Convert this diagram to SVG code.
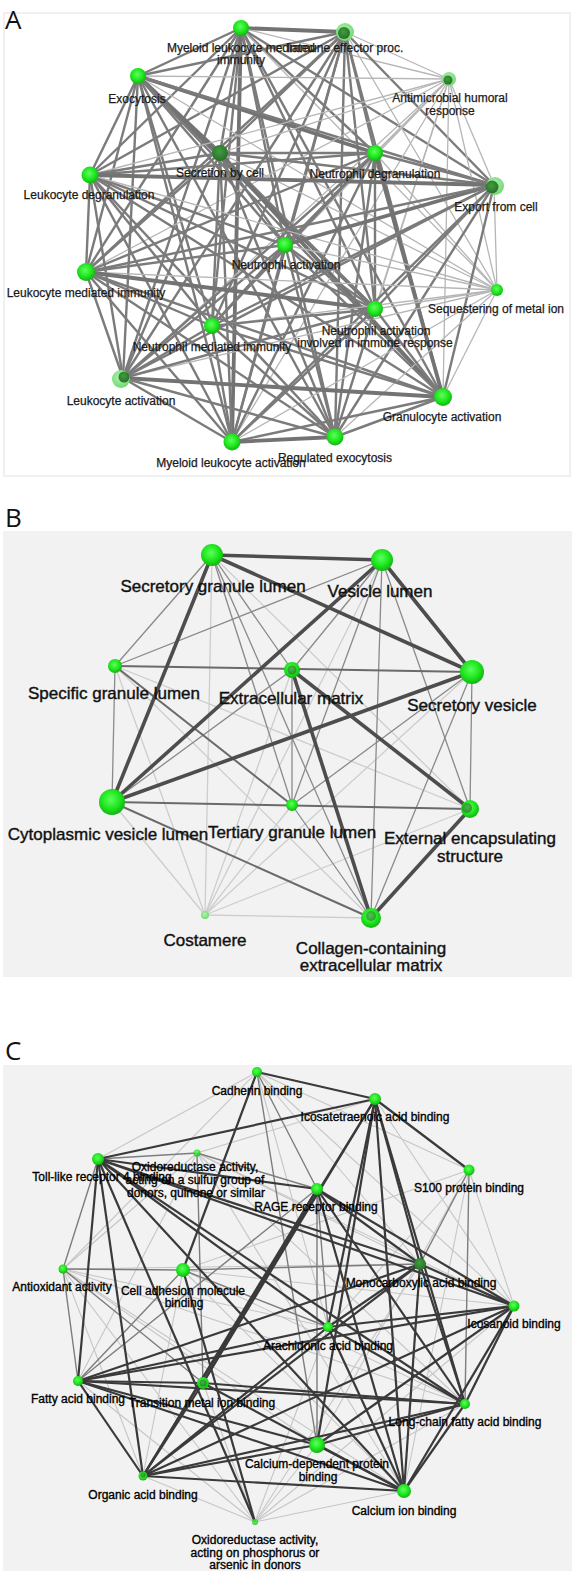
<svg xmlns="http://www.w3.org/2000/svg" width="576" height="1575" viewBox="0 0 576 1575">
<defs>
<radialGradient id="gb" cx="45%" cy="40%" r="60%"><stop offset="0" stop-color="#5cff5c"/><stop offset="0.6" stop-color="#1ee61e"/><stop offset="1" stop-color="#13b313"/></radialGradient>
<radialGradient id="gd" cx="45%" cy="40%" r="60%"><stop offset="0" stop-color="#3f9f3f"/><stop offset="1" stop-color="#2a6f2a"/></radialGradient>
<radialGradient id="gl" cx="45%" cy="40%" r="60%"><stop offset="0" stop-color="#b0f5b0"/><stop offset="1" stop-color="#72d872"/></radialGradient>
</defs>
<style>
.pl{font-family:"Open Sans","Liberation Sans",sans-serif;font-size:26px;fill:#111}
.ta{font-family:"Liberation Sans",Arial,sans-serif;font-size:12px;fill:#1a1a1a;stroke:#1a1a1a;stroke-width:0.25;text-anchor:middle}
.tb{font-family:"Liberation Sans",Arial,sans-serif;font-size:17px;fill:#111;stroke:#111;stroke-width:0.4;text-anchor:middle}
.tc{font-family:"Liberation Sans",Arial,sans-serif;font-size:12px;fill:#000;stroke:#000;stroke-width:0.35;text-anchor:middle}
.a{stroke:#7b7b7b;stroke-width:2.4}
.at{stroke:#737373;stroke-width:3.8}
.al{stroke:#b6b6b6;stroke-width:1.3}
.b{stroke:#8a8a8a;stroke-width:1.3}
.bm{stroke:#6a6a6a;stroke-width:2}
.bt{stroke:#4d4d4d;stroke-width:3.6}
.bl{stroke:#cdcdcd;stroke-width:1.3}
.c{stroke:#3a3a3a;stroke-width:2.2}
.cm{stroke:#7d7d7d;stroke-width:1.4}
.cl{stroke:#c6c6c6;stroke-width:1.1}
.nb{fill:url(#gb)}
.nd{fill:url(#gd)}
.nl{fill:url(#gl)}
</style>
<rect x="0" y="0" width="576" height="1575" fill="#ffffff"/>
<rect x="4" y="13" width="566" height="463" fill="#ffffff" stroke="#ececec" stroke-width="1.5"/>
<rect x="3" y="531" width="569" height="446" fill="#f2f2f2"/>
<rect x="3" y="1065" width="569" height="506" fill="#f2f2f2"/>
<text class="pl" x="5" y="29">A</text>
<text class="pl" x="5" y="527">B</text>
<text class="pl" x="5" y="1060">C</text>

<g id="connectors-a" fill="none">
<line class="at" x1="241" y1="28" x2="345" y2="32"/>
<line class="a" x1="241" y1="28" x2="138" y2="76"/>
<line class="al" x1="241" y1="28" x2="449" y2="79"/>
<line class="a" x1="241" y1="28" x2="220" y2="153"/>
<line class="a" x1="241" y1="28" x2="375" y2="153"/>
<line class="a" x1="241" y1="28" x2="90" y2="175"/>
<line class="a" x1="241" y1="28" x2="494" y2="185"/>
<line class="a" x1="241" y1="28" x2="285" y2="245"/>
<line class="a" x1="241" y1="28" x2="86" y2="272"/>
<line class="al" x1="241" y1="28" x2="497" y2="290"/>
<line class="a" x1="241" y1="28" x2="212" y2="326"/>
<line class="a" x1="241" y1="28" x2="375" y2="309"/>
<line class="a" x1="241" y1="28" x2="123" y2="378"/>
<line class="a" x1="241" y1="28" x2="443" y2="397"/>
<line class="at" x1="241" y1="28" x2="232" y2="442"/>
<line class="a" x1="241" y1="28" x2="335" y2="437"/>
<line class="a" x1="345" y1="32" x2="138" y2="76"/>
<line class="al" x1="345" y1="32" x2="449" y2="79"/>
<line class="a" x1="345" y1="32" x2="220" y2="153"/>
<line class="a" x1="345" y1="32" x2="375" y2="153"/>
<line class="a" x1="345" y1="32" x2="90" y2="175"/>
<line class="a" x1="345" y1="32" x2="494" y2="185"/>
<line class="a" x1="345" y1="32" x2="285" y2="245"/>
<line class="a" x1="345" y1="32" x2="86" y2="272"/>
<line class="al" x1="345" y1="32" x2="497" y2="290"/>
<line class="a" x1="345" y1="32" x2="212" y2="326"/>
<line class="a" x1="345" y1="32" x2="375" y2="309"/>
<line class="a" x1="345" y1="32" x2="123" y2="378"/>
<line class="a" x1="345" y1="32" x2="443" y2="397"/>
<line class="a" x1="345" y1="32" x2="232" y2="442"/>
<line class="a" x1="345" y1="32" x2="335" y2="437"/>
<line class="al" x1="138" y1="76" x2="449" y2="79"/>
<line class="at" x1="138" y1="76" x2="220" y2="153"/>
<line class="at" x1="138" y1="76" x2="375" y2="153"/>
<line class="a" x1="138" y1="76" x2="90" y2="175"/>
<line class="a" x1="138" y1="76" x2="494" y2="185"/>
<line class="a" x1="138" y1="76" x2="285" y2="245"/>
<line class="a" x1="138" y1="76" x2="86" y2="272"/>
<line class="al" x1="138" y1="76" x2="497" y2="290"/>
<line class="a" x1="138" y1="76" x2="212" y2="326"/>
<line class="at" x1="138" y1="76" x2="375" y2="309"/>
<line class="a" x1="138" y1="76" x2="123" y2="378"/>
<line class="a" x1="138" y1="76" x2="443" y2="397"/>
<line class="a" x1="138" y1="76" x2="232" y2="442"/>
<line class="a" x1="138" y1="76" x2="335" y2="437"/>
<line class="al" x1="449" y1="79" x2="220" y2="153"/>
<line class="al" x1="449" y1="79" x2="375" y2="153"/>
<line class="al" x1="449" y1="79" x2="90" y2="175"/>
<line class="al" x1="449" y1="79" x2="494" y2="185"/>
<line class="al" x1="449" y1="79" x2="285" y2="245"/>
<line class="al" x1="449" y1="79" x2="86" y2="272"/>
<line class="al" x1="449" y1="79" x2="497" y2="290"/>
<line class="al" x1="449" y1="79" x2="212" y2="326"/>
<line class="al" x1="449" y1="79" x2="375" y2="309"/>
<line class="al" x1="449" y1="79" x2="123" y2="378"/>
<line class="al" x1="449" y1="79" x2="443" y2="397"/>
<line class="al" x1="449" y1="79" x2="232" y2="442"/>
<line class="al" x1="449" y1="79" x2="335" y2="437"/>
<line class="a" x1="220" y1="153" x2="375" y2="153"/>
<line class="a" x1="220" y1="153" x2="90" y2="175"/>
<line class="a" x1="220" y1="153" x2="494" y2="185"/>
<line class="a" x1="220" y1="153" x2="285" y2="245"/>
<line class="a" x1="220" y1="153" x2="86" y2="272"/>
<line class="al" x1="220" y1="153" x2="497" y2="290"/>
<line class="a" x1="220" y1="153" x2="212" y2="326"/>
<line class="a" x1="220" y1="153" x2="375" y2="309"/>
<line class="a" x1="220" y1="153" x2="123" y2="378"/>
<line class="at" x1="220" y1="153" x2="443" y2="397"/>
<line class="a" x1="220" y1="153" x2="232" y2="442"/>
<line class="a" x1="220" y1="153" x2="335" y2="437"/>
<line class="a" x1="375" y1="153" x2="90" y2="175"/>
<line class="a" x1="375" y1="153" x2="494" y2="185"/>
<line class="a" x1="375" y1="153" x2="285" y2="245"/>
<line class="a" x1="375" y1="153" x2="86" y2="272"/>
<line class="al" x1="375" y1="153" x2="497" y2="290"/>
<line class="a" x1="375" y1="153" x2="212" y2="326"/>
<line class="a" x1="375" y1="153" x2="375" y2="309"/>
<line class="a" x1="375" y1="153" x2="123" y2="378"/>
<line class="at" x1="375" y1="153" x2="443" y2="397"/>
<line class="a" x1="375" y1="153" x2="232" y2="442"/>
<line class="a" x1="375" y1="153" x2="335" y2="437"/>
<line class="at" x1="90" y1="175" x2="494" y2="185"/>
<line class="a" x1="90" y1="175" x2="285" y2="245"/>
<line class="a" x1="90" y1="175" x2="86" y2="272"/>
<line class="al" x1="90" y1="175" x2="497" y2="290"/>
<line class="a" x1="90" y1="175" x2="212" y2="326"/>
<line class="a" x1="90" y1="175" x2="375" y2="309"/>
<line class="a" x1="90" y1="175" x2="123" y2="378"/>
<line class="a" x1="90" y1="175" x2="443" y2="397"/>
<line class="a" x1="90" y1="175" x2="232" y2="442"/>
<line class="a" x1="90" y1="175" x2="335" y2="437"/>
<line class="at" x1="494" y1="185" x2="285" y2="245"/>
<line class="a" x1="494" y1="185" x2="86" y2="272"/>
<line class="al" x1="494" y1="185" x2="497" y2="290"/>
<line class="a" x1="494" y1="185" x2="212" y2="326"/>
<line class="a" x1="494" y1="185" x2="375" y2="309"/>
<line class="a" x1="494" y1="185" x2="123" y2="378"/>
<line class="a" x1="494" y1="185" x2="443" y2="397"/>
<line class="a" x1="494" y1="185" x2="232" y2="442"/>
<line class="a" x1="494" y1="185" x2="335" y2="437"/>
<line class="a" x1="285" y1="245" x2="86" y2="272"/>
<line class="al" x1="285" y1="245" x2="497" y2="290"/>
<line class="a" x1="285" y1="245" x2="212" y2="326"/>
<line class="a" x1="285" y1="245" x2="375" y2="309"/>
<line class="a" x1="285" y1="245" x2="123" y2="378"/>
<line class="a" x1="285" y1="245" x2="443" y2="397"/>
<line class="a" x1="285" y1="245" x2="232" y2="442"/>
<line class="a" x1="285" y1="245" x2="335" y2="437"/>
<line class="al" x1="86" y1="272" x2="497" y2="290"/>
<line class="a" x1="86" y1="272" x2="212" y2="326"/>
<line class="at" x1="86" y1="272" x2="375" y2="309"/>
<line class="a" x1="86" y1="272" x2="123" y2="378"/>
<line class="a" x1="86" y1="272" x2="443" y2="397"/>
<line class="a" x1="86" y1="272" x2="232" y2="442"/>
<line class="a" x1="86" y1="272" x2="335" y2="437"/>
<line class="al" x1="497" y1="290" x2="212" y2="326"/>
<line class="al" x1="497" y1="290" x2="375" y2="309"/>
<line class="al" x1="497" y1="290" x2="123" y2="378"/>
<line class="al" x1="497" y1="290" x2="443" y2="397"/>
<line class="al" x1="497" y1="290" x2="232" y2="442"/>
<line class="al" x1="497" y1="290" x2="335" y2="437"/>
<line class="a" x1="212" y1="326" x2="375" y2="309"/>
<line class="a" x1="212" y1="326" x2="123" y2="378"/>
<line class="a" x1="212" y1="326" x2="443" y2="397"/>
<line class="a" x1="212" y1="326" x2="232" y2="442"/>
<line class="a" x1="212" y1="326" x2="335" y2="437"/>
<line class="a" x1="375" y1="309" x2="123" y2="378"/>
<line class="a" x1="375" y1="309" x2="443" y2="397"/>
<line class="a" x1="375" y1="309" x2="232" y2="442"/>
<line class="a" x1="375" y1="309" x2="335" y2="437"/>
<line class="at" x1="123" y1="378" x2="443" y2="397"/>
<line class="a" x1="123" y1="378" x2="232" y2="442"/>
<line class="a" x1="123" y1="378" x2="335" y2="437"/>
<line class="a" x1="443" y1="397" x2="232" y2="442"/>
<line class="a" x1="443" y1="397" x2="335" y2="437"/>
<line class="at" x1="232" y1="442" x2="335" y2="437"/>
</g>

<g id="a-myeloid-leukocyte-mediated-immunity"><circle class="nb" cx="241" cy="28" r="8"/><text class="ta" x="241" y="52">Myeloid leukocyte mediated</text><text class="ta" x="241" y="64">immunity</text></g>
<g id="a-immune-effector-proc"><circle class="nl" cx="345" cy="32" r="9"/><circle class="nd" cx="344" cy="33" r="6"/><text class="ta" x="345" y="52">Immune effector proc.</text></g>
<g id="a-exocytosis"><circle class="nb" cx="138" cy="76" r="8"/><text class="ta" x="137" y="103">Exocytosis</text></g>
<g id="a-antimicrobial-humoral-response"><circle class="nl" cx="449" cy="79" r="7"/><circle class="nd" cx="448" cy="80" r="4.5"/><text class="ta" x="450" y="102">Antimicrobial humoral</text><text class="ta" x="450" y="115">response</text></g>
<g id="a-secretion-by-cell"><circle class="nd" cx="220" cy="153" r="8"/><text class="ta" x="220" y="177">Secretion by cell</text></g>
<g id="a-neutrophil-degranulation"><circle class="nb" cx="375" cy="153" r="8"/><text class="ta" x="375" y="178">Neutrophil degranulation</text></g>
<g id="a-leukocyte-degranulation"><circle class="nb" cx="90" cy="175" r="8.5"/><text class="ta" x="89" y="199">Leukocyte degranulation</text></g>
<g id="a-export-from-cell"><circle class="nl" cx="495" cy="186" r="9"/><circle class="nd" cx="492" cy="187" r="6.5"/><text class="ta" x="496" y="211">Export from cell</text></g>
<g id="a-neutrophil-activation"><circle class="nb" cx="285" cy="245" r="8"/><text class="ta" x="286" y="269">Neutrophil activation</text></g>
<g id="a-leukocyte-mediated-immunity"><circle class="nb" cx="86" cy="272" r="9"/><text class="ta" x="86" y="297">Leukocyte mediated immunity</text></g>
<g id="a-sequestering-of-metal-ion"><circle class="nb" cx="497" cy="290" r="6"/><text class="ta" x="496" y="313">Sequestering of metal ion</text></g>
<g id="a-neutrophil-mediated-immunity"><circle class="nb" cx="212" cy="326" r="8"/><text class="ta" x="212" y="351">Neutrophil mediated immunity</text></g>
<g id="a-neutrophil-activation-involved-in-immune-response"><circle class="nb" cx="375" cy="309" r="8"/><text class="ta" x="376" y="335">Neutrophil activation</text><text class="ta" x="375" y="347">involved in immune response</text></g>
<g id="a-leukocyte-activation"><circle class="nl" cx="121" cy="379" r="9"/><circle class="nd" cx="124" cy="377" r="5.5"/><text class="ta" x="121" y="405">Leukocyte activation</text></g>
<g id="a-granulocyte-activation"><circle class="nb" cx="443" cy="397" r="9"/><text class="ta" x="442" y="421">Granulocyte activation</text></g>
<g id="a-myeloid-leukocyte-activation"><circle class="nb" cx="232" cy="442" r="8.5"/><text class="ta" x="231" y="467">Myeloid leukocyte activation</text></g>
<g id="a-regulated-exocytosis"><circle class="nb" cx="335" cy="437" r="8.5"/><text class="ta" x="335" y="462">Regulated exocytosis</text></g>

<g id="connectors-b" fill="none">
<line class="bl" x1="205" y1="915" x2="212" y2="555"/>
<line class="bl" x1="205" y1="915" x2="382" y2="560"/>
<line class="bl" x1="205" y1="915" x2="115" y2="666"/>
<line class="bl" x1="205" y1="915" x2="292" y2="670"/>
<line class="bl" x1="205" y1="915" x2="472" y2="672"/>
<line class="bl" x1="205" y1="915" x2="112" y2="802"/>
<line class="bl" x1="205" y1="915" x2="292" y2="805"/>
<line class="bl" x1="205" y1="915" x2="470" y2="809"/>
<line class="bl" x1="205" y1="915" x2="371" y2="918"/>
<line class="bl" x1="212" y1="555" x2="470" y2="809"/>
<line class="bl" x1="115" y1="666" x2="470" y2="809"/>
<line class="bl" x1="115" y1="666" x2="371" y2="918"/>
<line class="b" x1="212" y1="555" x2="115" y2="666"/>
<line class="b" x1="382" y1="560" x2="115" y2="666"/>
<line class="b" x1="212" y1="555" x2="292" y2="670"/>
<line class="b" x1="212" y1="555" x2="292" y2="805"/>
<line class="b" x1="212" y1="555" x2="371" y2="918"/>
<line class="b" x1="382" y1="560" x2="292" y2="670"/>
<line class="b" x1="382" y1="560" x2="292" y2="805"/>
<line class="b" x1="382" y1="560" x2="470" y2="809"/>
<line class="b" x1="382" y1="560" x2="371" y2="918"/>
<line class="b" x1="472" y1="672" x2="470" y2="809"/>
<line class="b" x1="472" y1="672" x2="292" y2="805"/>
<line class="b" x1="472" y1="672" x2="371" y2="918"/>
<line class="b" x1="115" y1="666" x2="112" y2="802"/>
<line class="b" x1="292" y1="670" x2="292" y2="805"/>
<line class="b" x1="292" y1="670" x2="112" y2="802"/>
<line class="b" x1="292" y1="805" x2="371" y2="918"/>
<line class="bm" x1="115" y1="666" x2="472" y2="672"/>
<line class="bm" x1="115" y1="666" x2="292" y2="805"/>
<line class="bm" x1="112" y1="802" x2="470" y2="809"/>
<line class="bm" x1="112" y1="802" x2="371" y2="918"/>
<line class="bt" x1="212" y1="555" x2="382" y2="560"/>
<line class="bt" x1="212" y1="555" x2="472" y2="672"/>
<line class="bt" x1="382" y1="560" x2="472" y2="672"/>
<line class="bt" x1="212" y1="555" x2="112" y2="802"/>
<line class="bt" x1="382" y1="560" x2="112" y2="802"/>
<line class="bt" x1="472" y1="672" x2="112" y2="802"/>
<line class="bt" x1="292" y1="670" x2="371" y2="918"/>
<line class="bt" x1="292" y1="670" x2="470" y2="809"/>
<line class="bt" x1="470" y1="809" x2="371" y2="918"/>
</g>

<g id="b-secretory-granule-lumen"><circle class="nb" cx="212" cy="555" r="11"/><text class="tb" x="213" y="592">Secretory granule lumen</text></g>
<g id="b-vesicle-lumen"><circle class="nb" cx="382" cy="560" r="11"/><text class="tb" x="380" y="597">Vesicle lumen</text></g>
<g id="b-specific-granule-lumen"><circle class="nb" cx="115" cy="666" r="7"/><text class="tb" x="114" y="699">Specific granule lumen</text></g>
<g id="b-extracellular-matrix"><circle class="nb" cx="292" cy="670" r="8"/><circle class="nd" cx="292" cy="670" r="4.5" opacity="0.7"/><text class="tb" x="291" y="704">Extracellular matrix</text></g>
<g id="b-secretory-vesicle"><circle class="nb" cx="472" cy="672" r="12"/><text class="tb" x="472" y="711">Secretory vesicle</text></g>
<g id="b-cytoplasmic-vesicle-lumen"><circle class="nb" cx="112" cy="802" r="13"/><text class="tb" x="108" y="840">Cytoplasmic vesicle lumen</text></g>
<g id="b-tertiary-granule-lumen"><circle class="nb" cx="292" cy="805" r="6"/><text class="tb" x="292" y="838">Tertiary granule lumen</text></g>
<g id="b-external-encapsulating-structure"><circle class="nb" cx="470" cy="809" r="9"/><circle class="nd" cx="467" cy="808" r="5" opacity="0.7"/><text class="tb" x="470" y="844">External encapsulating</text><text class="tb" x="470" y="862">structure</text></g>
<g id="b-costamere"><circle class="nl" cx="205" cy="915" r="4"/><text class="tb" x="205" y="946">Costamere</text></g>
<g id="b-collagen-containing-extracellular-matrix"><circle class="nb" cx="371" cy="918" r="10"/><circle class="nd" cx="371" cy="916" r="5" opacity="0.6"/><text class="tb" x="371" y="954">Collagen-containing</text><text class="tb" x="371" y="971">extracellular matrix</text></g>

<g id="connectors-c" fill="none">
<line class="cl" x1="257" y1="1072" x2="98" y2="1159"/>
<line class="cl" x1="257" y1="1072" x2="63" y2="1269"/>
<line class="cl" x1="257" y1="1072" x2="469" y2="1170"/>
<line class="cl" x1="257" y1="1072" x2="420" y2="1264"/>
<line class="cl" x1="257" y1="1072" x2="328" y2="1327"/>
<line class="cl" x1="257" y1="1072" x2="514" y2="1306"/>
<line class="cl" x1="197" y1="1153" x2="63" y2="1269"/>
<line class="cl" x1="197" y1="1153" x2="420" y2="1264"/>
<line class="cl" x1="197" y1="1153" x2="514" y2="1306"/>
<line class="cl" x1="197" y1="1153" x2="465" y2="1404"/>
<line class="cl" x1="197" y1="1153" x2="78" y2="1381"/>
<line class="cl" x1="197" y1="1153" x2="404" y2="1491"/>
<line class="cl" x1="469" y1="1170" x2="328" y2="1327"/>
<line class="cl" x1="469" y1="1170" x2="317" y2="1445"/>
<line class="cl" x1="469" y1="1170" x2="404" y2="1491"/>
<line class="cl" x1="469" y1="1170" x2="183" y2="1270"/>
<line class="cl" x1="469" y1="1170" x2="514" y2="1306"/>
<line class="cl" x1="375" y1="1099" x2="197" y2="1153"/>
<line class="cl" x1="375" y1="1099" x2="514" y2="1306"/>
<line class="cl" x1="63" y1="1269" x2="420" y2="1264"/>
<line class="cl" x1="63" y1="1269" x2="328" y2="1327"/>
<line class="cl" x1="63" y1="1269" x2="317" y2="1445"/>
<line class="cl" x1="63" y1="1269" x2="143" y2="1476"/>
<line class="cl" x1="63" y1="1269" x2="465" y2="1404"/>
<line class="cl" x1="63" y1="1269" x2="404" y2="1491"/>
<line class="cl" x1="255" y1="1522" x2="78" y2="1381"/>
<line class="cl" x1="255" y1="1522" x2="143" y2="1476"/>
<line class="cl" x1="255" y1="1522" x2="203" y2="1383"/>
<line class="cl" x1="255" y1="1522" x2="317" y2="1445"/>
<line class="cl" x1="255" y1="1522" x2="404" y2="1491"/>
<line class="cl" x1="255" y1="1522" x2="465" y2="1404"/>
<line class="cl" x1="255" y1="1522" x2="328" y2="1327"/>
<line class="cl" x1="255" y1="1522" x2="420" y2="1264"/>
<line class="cl" x1="255" y1="1522" x2="514" y2="1306"/>
<line class="cl" x1="255" y1="1522" x2="63" y2="1269"/>
<line class="cl" x1="183" y1="1270" x2="514" y2="1306"/>
<line class="cl" x1="183" y1="1270" x2="465" y2="1404"/>
<line class="cl" x1="183" y1="1270" x2="404" y2="1491"/>
<line class="cl" x1="183" y1="1270" x2="143" y2="1476"/>
<line class="cm" x1="197" y1="1153" x2="317" y2="1189"/>
<line class="cm" x1="197" y1="1153" x2="98" y2="1159"/>
<line class="cm" x1="197" y1="1153" x2="203" y2="1383"/>
<line class="cm" x1="63" y1="1269" x2="183" y2="1270"/>
<line class="cm" x1="63" y1="1269" x2="98" y2="1159"/>
<line class="cm" x1="63" y1="1269" x2="78" y2="1381"/>
<line class="cm" x1="63" y1="1269" x2="203" y2="1383"/>
<line class="cm" x1="469" y1="1170" x2="420" y2="1264"/>
<line class="cm" x1="469" y1="1170" x2="465" y2="1404"/>
<line class="cm" x1="257" y1="1072" x2="317" y2="1189"/>
<line class="cm" x1="257" y1="1072" x2="317" y2="1445"/>
<line class="cm" x1="183" y1="1270" x2="420" y2="1264"/>
<line class="cm" x1="183" y1="1270" x2="328" y2="1327"/>
<line class="cm" x1="183" y1="1270" x2="78" y2="1381"/>
<line class="cm" x1="317" y1="1189" x2="317" y2="1445"/>
<line class="cm" x1="317" y1="1189" x2="78" y2="1381"/>
<line class="cm" x1="317" y1="1189" x2="328" y2="1327"/>
<line class="c" x1="257" y1="1072" x2="375" y2="1099"/>
<line class="c" x1="257" y1="1072" x2="183" y2="1270"/>
<line class="c" x1="98" y1="1159" x2="375" y2="1099"/>
<line class="c" x1="375" y1="1099" x2="469" y2="1170"/>
<line class="c" x1="375" y1="1099" x2="203" y2="1383"/>
<line class="c" x1="375" y1="1099" x2="328" y2="1327"/>
<line class="c" x1="375" y1="1099" x2="317" y2="1445"/>
<line class="c" x1="375" y1="1099" x2="420" y2="1264"/>
<line class="c" x1="375" y1="1099" x2="465" y2="1404"/>
<line class="c" x1="375" y1="1099" x2="404" y2="1491"/>
<line class="c" x1="375" y1="1099" x2="143" y2="1476"/>
<line class="c" x1="98" y1="1159" x2="317" y2="1189"/>
<line class="c" x1="98" y1="1159" x2="420" y2="1264"/>
<line class="c" x1="98" y1="1159" x2="514" y2="1306"/>
<line class="c" x1="98" y1="1159" x2="465" y2="1404"/>
<line class="c" x1="98" y1="1159" x2="78" y2="1381"/>
<line class="c" x1="98" y1="1159" x2="143" y2="1476"/>
<line class="c" x1="98" y1="1159" x2="404" y2="1491"/>
<line class="c" x1="98" y1="1159" x2="328" y2="1327"/>
<line class="c" x1="317" y1="1189" x2="143" y2="1476"/>
<line class="c" x1="317" y1="1189" x2="420" y2="1264"/>
<line class="c" x1="317" y1="1189" x2="514" y2="1306"/>
<line class="c" x1="317" y1="1189" x2="404" y2="1491"/>
<line class="c" x1="317" y1="1189" x2="465" y2="1404"/>
<line class="c" x1="317" y1="1189" x2="203" y2="1383"/>
<line class="c" x1="420" y1="1264" x2="514" y2="1306"/>
<line class="c" x1="420" y1="1264" x2="328" y2="1327"/>
<line class="c" x1="420" y1="1264" x2="78" y2="1381"/>
<line class="c" x1="420" y1="1264" x2="143" y2="1476"/>
<line class="c" x1="420" y1="1264" x2="404" y2="1491"/>
<line class="c" x1="420" y1="1264" x2="465" y2="1404"/>
<line class="c" x1="514" y1="1306" x2="328" y2="1327"/>
<line class="c" x1="514" y1="1306" x2="78" y2="1381"/>
<line class="c" x1="514" y1="1306" x2="143" y2="1476"/>
<line class="c" x1="514" y1="1306" x2="465" y2="1404"/>
<line class="c" x1="514" y1="1306" x2="404" y2="1491"/>
<line class="c" x1="514" y1="1306" x2="317" y2="1445"/>
<line class="c" x1="328" y1="1327" x2="78" y2="1381"/>
<line class="c" x1="328" y1="1327" x2="465" y2="1404"/>
<line class="c" x1="328" y1="1327" x2="404" y2="1491"/>
<line class="c" x1="328" y1="1327" x2="143" y2="1476"/>
<line class="c" x1="78" y1="1381" x2="465" y2="1404"/>
<line class="c" x1="78" y1="1381" x2="203" y2="1383"/>
<line class="c" x1="78" y1="1381" x2="143" y2="1476"/>
<line class="c" x1="78" y1="1381" x2="317" y2="1445"/>
<line class="c" x1="78" y1="1381" x2="404" y2="1491"/>
<line class="c" x1="203" y1="1383" x2="465" y2="1404"/>
<line class="c" x1="203" y1="1383" x2="143" y2="1476"/>
<line class="c" x1="203" y1="1383" x2="404" y2="1491"/>
<line class="c" x1="465" y1="1404" x2="317" y2="1445"/>
<line class="c" x1="465" y1="1404" x2="404" y2="1491"/>
<line class="c" x1="465" y1="1404" x2="143" y2="1476"/>
<line class="c" x1="317" y1="1445" x2="404" y2="1491"/>
<line class="c" x1="317" y1="1445" x2="143" y2="1476"/>
<line class="c" x1="143" y1="1476" x2="404" y2="1491"/>
<line class="c" x1="255" y1="1522" x2="98" y2="1159"/>
<line class="c" x1="255" y1="1522" x2="183" y2="1270"/>
</g>

<g id="c-cadherin-binding"><circle class="nb" cx="257" cy="1072" r="5"/><text class="tc" x="257" y="1095">Cadherin binding</text></g>
<g id="c-icosatetraenoic-acid-binding"><circle class="nb" cx="375" cy="1099" r="6"/><text class="tc" x="375" y="1121">Icosatetraenoic acid binding</text></g>
<g id="c-toll-like-receptor-4-binding"><circle class="nb" cx="98" cy="1159" r="6"/><text class="tc" x="102" y="1181">Toll-like receptor 4 binding</text></g>
<g id="c-oxidoreductase-sulfur"><circle class="nb" cx="197" cy="1153" r="3.5" opacity="0.8"/><text class="tc" x="195" y="1171">Oxidoreductase activity,</text><text class="tc" x="195" y="1184">acting on a sulfur group of</text><text class="tc" x="196" y="1197">donors, quinone or similar</text></g>
<g id="c-s100-protein-binding"><circle class="nb" cx="469" cy="1170" r="5.5"/><text class="tc" x="469" y="1192">S100 protein binding</text></g>
<g id="c-rage-receptor-binding"><circle class="nb" cx="317" cy="1189" r="6"/><text class="tc" x="316" y="1211">RAGE receptor binding</text></g>
<g id="c-antioxidant-activity"><circle class="nb" cx="63" cy="1269" r="4.5"/><text class="tc" x="62" y="1291">Antioxidant activity</text></g>
<g id="c-cell-adhesion-molecule-binding"><circle class="nb" cx="183" cy="1270" r="7"/><text class="tc" x="183" y="1295">Cell adhesion molecule</text><text class="tc" x="184" y="1307">binding</text></g>
<g id="c-monocarboxylic-acid-binding"><circle class="nd" cx="420" cy="1264" r="6"/><text class="tc" x="421" y="1287">Monocarboxylic acid binding</text></g>
<g id="c-icosanoid-binding"><circle class="nb" cx="514" cy="1306" r="5.5"/><text class="tc" x="514" y="1328">Icosanoid binding</text></g>
<g id="c-arachidonic-acid-binding"><circle class="nb" cx="328" cy="1327" r="5"/><text class="tc" x="328" y="1350">Arachidonic acid binding</text></g>
<g id="c-fatty-acid-binding"><circle class="nb" cx="78" cy="1381" r="5"/><text class="tc" x="78" y="1403">Fatty acid binding</text></g>
<g id="c-transition-metal-ion-binding"><circle class="nb" cx="203" cy="1383" r="6"/><circle class="nd" cx="203" cy="1383" r="3.5" opacity="0.8"/><text class="tc" x="202" y="1407">Transition metal ion binding</text></g>
<g id="c-long-chain-fatty-acid-binding"><circle class="nb" cx="465" cy="1404" r="5"/><text class="tc" x="465" y="1426">Long-chain fatty acid binding</text></g>
<g id="c-calcium-dependent-protein-binding"><circle class="nb" cx="317" cy="1445" r="8"/><text class="tc" x="317" y="1468">Calcium-dependent protein</text><text class="tc" x="318" y="1481">binding</text></g>
<g id="c-organic-acid-binding"><circle class="nb" cx="143" cy="1476" r="4.5"/><circle class="nd" cx="143" cy="1475" r="2.5" opacity="0.8"/><text class="tc" x="143" y="1499">Organic acid binding</text></g>
<g id="c-calcium-ion-binding"><circle class="nb" cx="404" cy="1491" r="7"/><text class="tc" x="404" y="1515">Calcium ion binding</text></g>
<g id="c-oxidoreductase-phosphorus"><circle class="nb" cx="255" cy="1522" r="3" opacity="0.8"/><text class="tc" x="255" y="1544">Oxidoreductase activity,</text><text class="tc" x="255" y="1557">acting on phosphorus or</text><text class="tc" x="255" y="1569">arsenic in donors</text></g>
</svg>
